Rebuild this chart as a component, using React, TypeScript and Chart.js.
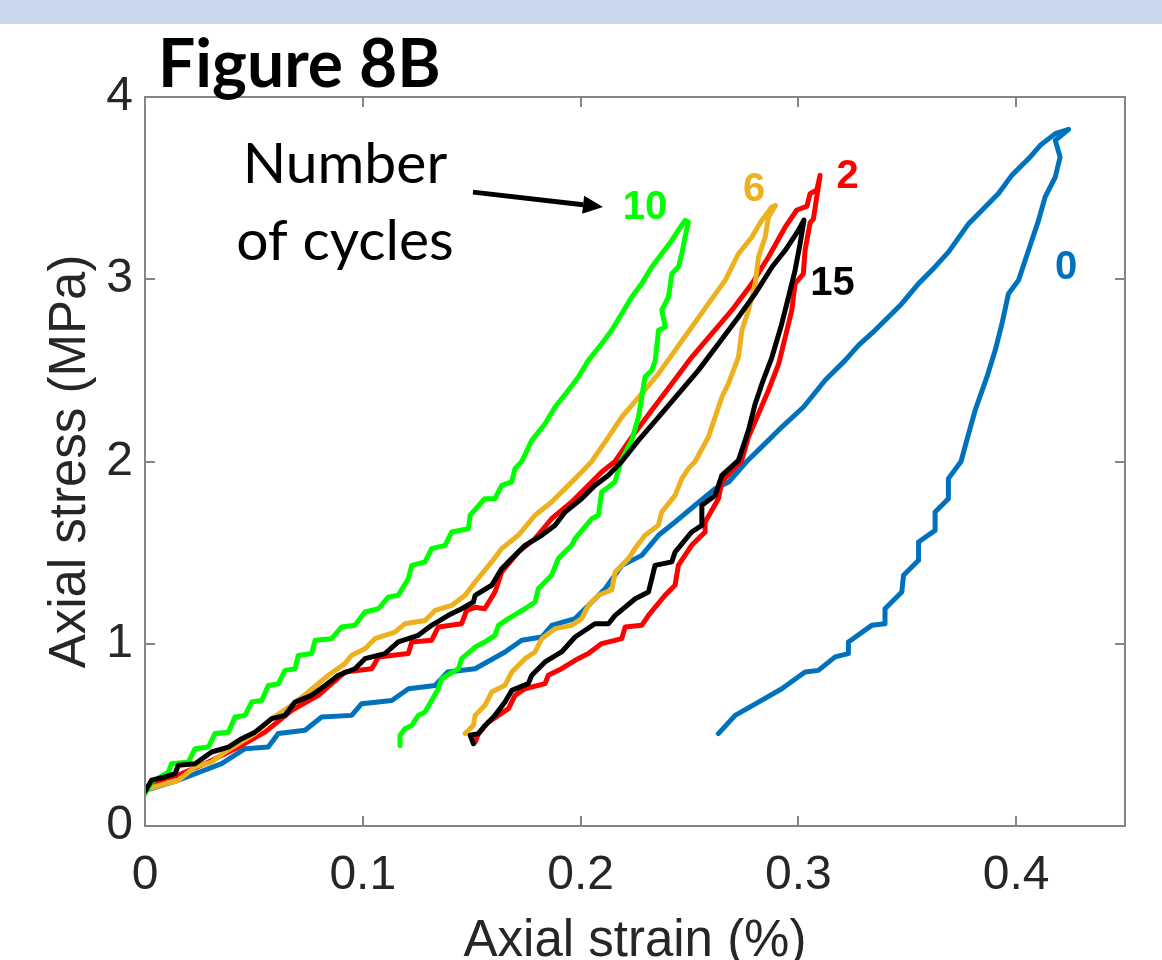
import React, { useEffect, useRef } from "react";
import { Chart, registerables } from "chart.js";

Chart.register(...registerables);

// ---- axis ticks ----
const xTickValues = [0, 0.1, 0.2, 0.3, 0.4];
const xTickLabels = ["0", "0.1", "0.2", "0.3", "0.4"];
const yTickValues = [0, 1, 2, 3, 4];
const yTickLabels = ["0", "1", "2", "3", "4"];

// ---- series: [axial strain (%), axial stress (MPa)] loading then unloading ----
const cycle0: [number, number][] = [
  [0, 0.196], [0.0153, 0.251], [0.0352, 0.342], [0.0459, 0.424], [0.0566, 0.433], [0.0612, 0.507],
  [0.0735, 0.525], [0.0811, 0.598], [0.0949, 0.607], [0.0995, 0.671], [0.1133, 0.689], [0.121, 0.753],
  [0.1332, 0.771], [0.139, 0.845], [0.1516, 0.863], [0.1653, 0.955], [0.173, 1.019], [0.1822, 1.037],
  [0.1868, 1.101], [0.1975, 1.138], [0.2037, 1.211], [0.2113, 1.302], [0.219, 1.43], [0.2281, 1.485],
  [0.2358, 1.595], [0.2434, 1.668], [0.2526, 1.76], [0.2618, 1.851], [0.268, 1.887], [0.2763, 2.0],
  [0.2847, 2.098], [0.2924, 2.189], [0.3024, 2.299], [0.3123, 2.446], [0.3215, 2.555], [0.3276, 2.637],
  [0.3352, 2.72], [0.3414, 2.793], [0.3475, 2.866], [0.3552, 2.976], [0.3613, 3.049], [0.369, 3.15],
  [0.3782, 3.305], [0.3858, 3.396], [0.3919, 3.47], [0.398, 3.57], [0.4057, 3.661], [0.4111, 3.735],
  [0.418, 3.799], [0.4241, 3.823], [0.418, 3.762], [0.4202, 3.671], [0.418, 3.561], [0.4133, 3.451],
  [0.4103, 3.323], [0.4057, 3.159], [0.4011, 2.994], [0.3965, 2.921], [0.3935, 2.756], [0.3904, 2.61],
  [0.3866, 2.464], [0.3812, 2.281], [0.3782, 2.153], [0.3747, 2.0], [0.3689, 1.906], [0.3689, 1.796],
  [0.3628, 1.723], [0.3628, 1.622], [0.3552, 1.558], [0.3552, 1.458], [0.3483, 1.376], [0.3475, 1.284],
  [0.3398, 1.192], [0.3398, 1.11], [0.3337, 1.101], [0.323, 1.01], [0.323, 0.946], [0.3169, 0.928],
  [0.3092, 0.854], [0.3031, 0.845], [0.2924, 0.753], [0.2817, 0.68], [0.271, 0.607], [0.2633, 0.507],
];

const cycle2: [number, number][] = [
  [0, 0.196], [0.0092, 0.26], [0.0153, 0.28], [0.0276, 0.342], [0.0429, 0.433], [0.0551, 0.515],
  [0.0674, 0.635], [0.0796, 0.717], [0.0918, 0.845], [0.1041, 0.863], [0.1072, 0.927], [0.1209, 0.946],
  [0.1225, 1.01], [0.1316, 1.019], [0.1347, 1.092], [0.1454, 1.11], [0.1477, 1.183], [0.1516, 1.2],
  [0.156, 1.192], [0.1607, 1.284], [0.1638, 1.394], [0.1714, 1.503], [0.1791, 1.577], [0.1867, 1.686],
  [0.1959, 1.778], [0.2036, 1.869], [0.2097, 1.942], [0.2158, 2.0], [0.2235, 2.134], [0.2327, 2.281],
  [0.2419, 2.427], [0.2511, 2.573], [0.2603, 2.701], [0.2695, 2.83], [0.2787, 2.976], [0.2863, 3.122],
  [0.294, 3.287], [0.2993, 3.38], [0.3039, 3.4], [0.3054, 3.47], [0.3085, 3.49], [0.31, 3.57],
  [0.3069, 3.33], [0.3054, 3.31], [0.3031, 3.16], [0.3023, 3.03], [0.2985, 2.976], [0.297, 2.83],
  [0.294, 2.683], [0.291, 2.537], [0.2863, 2.391], [0.2817, 2.262], [0.2771, 2.134], [0.274, 2.006],
  [0.2649, 1.888], [0.2633, 1.796], [0.2572, 1.668], [0.2572, 1.613], [0.251, 1.54], [0.2449, 1.43],
  [0.2434, 1.321], [0.2388, 1.266], [0.2312, 1.156], [0.2281, 1.101], [0.2205, 1.092], [0.2189, 1.028],
  [0.2097, 1.001], [0.2036, 0.946], [0.1975, 0.909], [0.1913, 0.863], [0.1852, 0.827], [0.1837, 0.781],
  [0.1745, 0.753], [0.1699, 0.717], [0.1669, 0.644], [0.1623, 0.607], [0.1577, 0.57], [0.1531, 0.507],
  [0.1516, 0.461], [0.1508, 0.452],
];

const cycle6: [number, number][] = [
  [0, 0.2], [0.0153, 0.251], [0.023, 0.324], [0.0306, 0.351], [0.0367, 0.406], [0.0429, 0.452],
  [0.0505, 0.507], [0.0582, 0.589], [0.0674, 0.662], [0.075, 0.735], [0.0842, 0.827], [0.0918, 0.891],
  [0.0949, 0.937], [0.101, 0.973], [0.1056, 1.028], [0.1148, 1.064], [0.1194, 1.11], [0.1286, 1.128],
  [0.1332, 1.183], [0.1408, 1.21], [0.147, 1.266], [0.1516, 1.339], [0.1592, 1.449], [0.1638, 1.522],
  [0.1714, 1.595], [0.1791, 1.705], [0.1867, 1.778], [0.1944, 1.869], [0.2005, 1.942], [0.2051, 2.0],
  [0.2128, 2.134], [0.2189, 2.244], [0.2281, 2.372], [0.2358, 2.482], [0.2434, 2.61], [0.2511, 2.738],
  [0.2587, 2.866], [0.2664, 2.994], [0.2725, 3.14], [0.2787, 3.232], [0.2832, 3.323], [0.2878, 3.396],
  [0.2895, 3.405], [0.2863, 3.341], [0.2848, 3.232], [0.2817, 3.122], [0.2802, 2.976], [0.2771, 2.83],
  [0.2741, 2.72], [0.2725, 2.573], [0.2679, 2.427], [0.2649, 2.354], [0.2618, 2.244], [0.2587, 2.134],
  [0.2526, 2.0], [0.2495, 1.961], [0.2465, 1.906], [0.2434, 1.814], [0.2373, 1.723], [0.2357, 1.65],
  [0.2296, 1.595], [0.225, 1.522], [0.222, 1.467], [0.2159, 1.394], [0.2143, 1.295], [0.2082, 1.266],
  [0.2036, 1.211], [0.2005, 1.138], [0.1959, 1.101], [0.1883, 1.083], [0.1822, 1.028], [0.1791, 0.955],
  [0.1745, 0.918], [0.1684, 0.845], [0.1653, 0.772], [0.1592, 0.735], [0.1561, 0.662], [0.1516, 0.607],
  [0.1508, 0.552], [0.147, 0.507],
];

const cycle10: [number, number][] = [
  [0, 0.177], [0.003, 0.241], [0.0107, 0.296], [0.0122, 0.342], [0.0199, 0.351], [0.023, 0.424],
  [0.0291, 0.433], [0.0321, 0.507], [0.0383, 0.515], [0.0413, 0.598], [0.0459, 0.607], [0.049, 0.68],
  [0.0536, 0.689], [0.0566, 0.771], [0.0612, 0.78], [0.0643, 0.854], [0.0689, 0.863], [0.0704, 0.936],
  [0.0765, 0.946], [0.0781, 1.019], [0.0857, 1.028], [0.0903, 1.092], [0.0964, 1.101], [0.101, 1.174],
  [0.1072, 1.192], [0.1117, 1.256], [0.1163, 1.266], [0.1209, 1.357], [0.1225, 1.43], [0.1286, 1.449],
  [0.1316, 1.522], [0.1378, 1.54], [0.1408, 1.613], [0.1485, 1.631], [0.1493, 1.705], [0.156, 1.796],
  [0.1607, 1.796], [0.1638, 1.869], [0.1684, 1.888], [0.1699, 1.961], [0.173, 2.0], [0.1776, 2.116],
  [0.1837, 2.207], [0.1883, 2.299], [0.1944, 2.391], [0.199, 2.464], [0.2036, 2.555], [0.2097, 2.646],
  [0.2143, 2.72], [0.2189, 2.811], [0.2235, 2.903], [0.2281, 2.976], [0.2327, 3.067], [0.2373, 3.14],
  [0.2419, 3.213], [0.2449, 3.268], [0.248, 3.323], [0.2495, 3.314], [0.248, 3.232], [0.2465, 3.14],
  [0.2449, 3.067], [0.2419, 3.03], [0.2404, 2.903], [0.2373, 2.83], [0.2389, 2.738], [0.2358, 2.72],
  [0.2343, 2.555], [0.2327, 2.5], [0.2296, 2.464], [0.2281, 2.354], [0.2266, 2.244], [0.2235, 2.116],
  [0.2185, 2.0], [0.2158, 1.888], [0.2097, 1.833], [0.2082, 1.705], [0.2051, 1.686], [0.1975, 1.577],
  [0.1959, 1.54], [0.1898, 1.467], [0.1867, 1.376], [0.1806, 1.302], [0.1791, 1.229], [0.1745, 1.192],
  [0.1669, 1.138], [0.1623, 1.101], [0.1607, 1.046], [0.1561, 1.01], [0.1516, 0.982], [0.1454, 0.918],
  [0.1439, 0.863], [0.1362, 0.808], [0.1347, 0.753], [0.1316, 0.689], [0.1286, 0.625], [0.1255, 0.607],
  [0.1225, 0.552], [0.1194, 0.534], [0.1171, 0.497], [0.1171, 0.442],
];

const cycle15: [number, number][] = [
  [0, 0.19], [0.003, 0.251], [0.0092, 0.269], [0.0138, 0.287], [0.0153, 0.333], [0.023, 0.342],
  [0.0306, 0.406], [0.0383, 0.433], [0.0444, 0.479], [0.0505, 0.515], [0.0582, 0.589], [0.0643, 0.607],
  [0.0689, 0.68], [0.0765, 0.717], [0.0827, 0.771], [0.0888, 0.827], [0.0964, 0.863], [0.101, 0.918],
  [0.1102, 0.946], [0.1163, 1.01], [0.1255, 1.046], [0.1316, 1.101], [0.1393, 1.156], [0.1454, 1.192],
  [0.1508, 1.229], [0.1516, 1.266], [0.1592, 1.321], [0.1638, 1.412], [0.1684, 1.467], [0.1745, 1.54],
  [0.1822, 1.595], [0.1883, 1.65], [0.1929, 1.723], [0.2005, 1.796], [0.2066, 1.869], [0.2128, 1.924],
  [0.2189, 2.0], [0.2266, 2.116], [0.2358, 2.244], [0.245, 2.372], [0.2541, 2.5], [0.2633, 2.646],
  [0.2725, 2.793], [0.2802, 2.921], [0.2879, 3.067], [0.294, 3.159], [0.3001, 3.269], [0.3026, 3.325],
  [0.3008, 3.195], [0.2985, 3.049], [0.2955, 2.903], [0.2924, 2.756], [0.2879, 2.573], [0.2833, 2.427],
  [0.2802, 2.317], [0.2771, 2.171], [0.2725, 2.006], [0.2649, 1.924], [0.2618, 1.814], [0.2557, 1.76],
  [0.2557, 1.65], [0.251, 1.613], [0.2434, 1.503], [0.2419, 1.449], [0.2342, 1.43], [0.2312, 1.284],
  [0.2251, 1.247], [0.2159, 1.156], [0.2128, 1.11], [0.2066, 1.11], [0.1975, 1.037], [0.1913, 0.955],
  [0.1837, 0.9], [0.1776, 0.827], [0.176, 0.781], [0.1684, 0.744], [0.1653, 0.68], [0.1607, 0.607],
  [0.1562, 0.552], [0.1531, 0.507], [0.1493, 0.498], [0.1508, 0.452],
];

const seriesNames = ["0 cycles", "2 cycles", "6 cycles", "10 cycles", "15 cycles"];
const seriesColors = ["#0072BD", "#FF0000", "#EDB120", "#00FF00", "#000000"];
const seriesOrder = [4, 3, 2, 1, 0];

// ---- in-plot annotations (data coordinates) ----
const cycleLabelText = ["10", "6", "2", "15", "0"];
const cycleLabelStrain = [0.2296, 0.2797, 0.3226, 0.3157, 0.423];
const cycleLabelStress = [3.391, 3.492, 3.561, 2.976, 3.062];
const cycleLabelColor = ["#00FF00", "#EDB120", "#FF0000", "#000000", "#0072BD"];
const noteLines = ["Number", "of cycles"];
const noteStrain = 0.0918;
const noteStress = [3.528, 3.106];
const arrowFrom = [0.1506, 3.478];
const arrowTo = [0.2103, 3.396];

const FONT = "'Liberation Sans', Arial, sans-serif";

const framePlugin = {
  id: "matlabFrame",
  afterDatasetsDraw(chart: any) {
    const { ctx, chartArea: a, scales } = chart;
    const sx = scales.x;
    const sy = scales.y;
    ctx.save();
    ctx.strokeStyle = "#858585";
    ctx.lineWidth = 2;
    ctx.strokeRect(a.left, a.top, a.right - a.left, a.bottom - a.top);
    ctx.beginPath();
    for (const v of xTickValues) {
      const px = Math.round(sx.getPixelForValue(v));
      ctx.moveTo(px, a.bottom);
      ctx.lineTo(px, a.bottom - 10);
      ctx.moveTo(px, a.top);
      ctx.lineTo(px, a.top + 10);
    }
    for (const v of yTickValues) {
      const py = Math.round(sy.getPixelForValue(v));
      ctx.moveTo(a.left, py);
      ctx.lineTo(a.left + 10, py);
      ctx.moveTo(a.right, py);
      ctx.lineTo(a.right - 10, py);
    }
    ctx.stroke();

    // cycle labels
    ctx.font = `bold 40px ${FONT}`;
    ctx.textAlign = "center";
    ctx.textBaseline = "middle";
    cycleLabelText.forEach((t, i) => {
      ctx.fillStyle = cycleLabelColor[i];
      ctx.fillText(t, sx.getPixelForValue(cycleLabelStrain[i]), sy.getPixelForValue(cycleLabelStress[i]));
    });

    // note text
    ctx.font = "57px Lato, 'Open Sans', sans-serif";
    ctx.fillStyle = "#000";
    ctx.textBaseline = "alphabetic";
    noteLines.forEach((t, i) => {
      ctx.fillText(t, sx.getPixelForValue(noteStrain), sy.getPixelForValue(noteStress[i]));
    });

    // arrow
    const x1 = sx.getPixelForValue(arrowFrom[0]);
    const y1 = sy.getPixelForValue(arrowFrom[1]);
    const x2 = sx.getPixelForValue(arrowTo[0]);
    const y2 = sy.getPixelForValue(arrowTo[1]);
    const ang = Math.atan2(y2 - y1, x2 - x1);
    const headLen = 20;
    const headHalf = 9;
    const bx = x2 - headLen * Math.cos(ang);
    const by = y2 - headLen * Math.sin(ang);
    ctx.strokeStyle = "#000";
    ctx.lineWidth = 5;
    ctx.beginPath();
    ctx.moveTo(x1, y1);
    ctx.lineTo(bx, by);
    ctx.stroke();
    ctx.fillStyle = "#000";
    ctx.beginPath();
    ctx.moveTo(x2, y2);
    ctx.lineTo(bx + headHalf * Math.sin(ang), by - headHalf * Math.cos(ang));
    ctx.lineTo(bx - headHalf * Math.sin(ang), by + headHalf * Math.cos(ang));
    ctx.closePath();
    ctx.fill();
    ctx.restore();
  },
};

export default function App() {
  const canvasRef = useRef<HTMLCanvasElement | null>(null);

  useEffect(() => {
    const canvas = canvasRef.current;
    if (!canvas) return;
    const allSeries = [cycle0, cycle2, cycle6, cycle10, cycle15];
    const chart = new Chart(canvas, {
      type: "scatter",
      data: {
        datasets: allSeries.map((s, i) => ({
          label: seriesNames[i],
          data: s.map(([x, y]) => ({ x, y })),
          borderColor: seriesColors[i],
          backgroundColor: seriesColors[i],
          borderWidth: 5,
          pointRadius: 0,
          pointHoverRadius: 0,
          showLine: true,
          fill: false,
          tension: 0,
          borderJoinStyle: "round",
          borderCapStyle: "round",
          order: seriesOrder[i],
        })),
      },
      options: {
        responsive: false,
        animation: false,
        devicePixelRatio: 1,
        layout: { padding: { top: 97, right: 37, left: 0, bottom: 0 } },
        plugins: {
          legend: { display: false },
          tooltip: { enabled: false },
          title: { display: false },
        },
        scales: {
          x: {
            type: "linear",
            min: 0,
            max: 0.45,
            afterBuildTicks: (scale: any) => {
              scale.ticks = xTickValues.map((v) => ({ value: v }));
            },
            afterFit: (scale: any) => {
              scale.height = 134;
            },
            grid: { display: false, drawTicks: false },
            border: { display: false },
            ticks: {
              autoSkip: false,
              maxRotation: 0,
              padding: 21,
              color: "#262626",
              font: { family: FONT, size: 48 },
              callback: (v: any) => {
                const i = xTickValues.findIndex((t) => Math.abs(t - Number(v)) < 1e-9);
                return i >= 0 ? xTickLabels[i] : "";
              },
            },
            title: {
              display: true,
              text: "Axial strain (%)",
              color: "#262626",
              font: { family: FONT, size: 51, lineHeight: 0.7 },
              padding: { top: 0, bottom: 0 },
            },
          },
          y: {
            type: "linear",
            min: 0,
            max: 4,
            afterBuildTicks: (scale: any) => {
              scale.ticks = yTickValues.map((v) => ({ value: v }));
            },
            afterFit: (scale: any) => {
              scale.width = 145;
            },
            grid: { display: false, drawTicks: false },
            border: { display: false },
            ticks: {
              autoSkip: false,
              padding: 12,
              color: "#262626",
              font: { family: FONT, size: 48 },
              callback: (v: any) => {
                const i = yTickValues.findIndex((t) => Math.abs(t - Number(v)) < 1e-9);
                return i >= 0 ? yTickLabels[i] : "";
              },
            },
            title: {
              display: true,
              text: "Axial stress (MPa)",
              color: "#262626",
              font: { family: FONT, size: 51, lineHeight: 1.2 },
              padding: { top: 40, bottom: 0 },
            },
          },
        },
      },
      plugins: [framePlugin],
    } as any);
    return () => chart.destroy();
  }, []);

  return (
    <div style={{ position: "fixed", left: 0, top: 0, width: 1162, height: 960, background: "#fff", overflow: "hidden" }}>
      <div style={{ position: "absolute", left: 0, top: 0, width: 1162, height: 24, background: "#C9D7EB" }} />
      <canvas ref={canvasRef} width={1162} height={960} style={{ position: "absolute", left: 0, top: 0, display: "block" }} />
      <div
        style={{
          position: "absolute",
          left: 158,
          top: 29,
          margin: 0,
          fontFamily: "Lato, 'Open Sans', sans-serif",
          fontWeight: 700,
          fontSize: 66,
          lineHeight: "66px",
          color: "#000",
          whiteSpace: "nowrap",
        }}
      >
        Figure 8B
      </div>
    </div>
  );
}
